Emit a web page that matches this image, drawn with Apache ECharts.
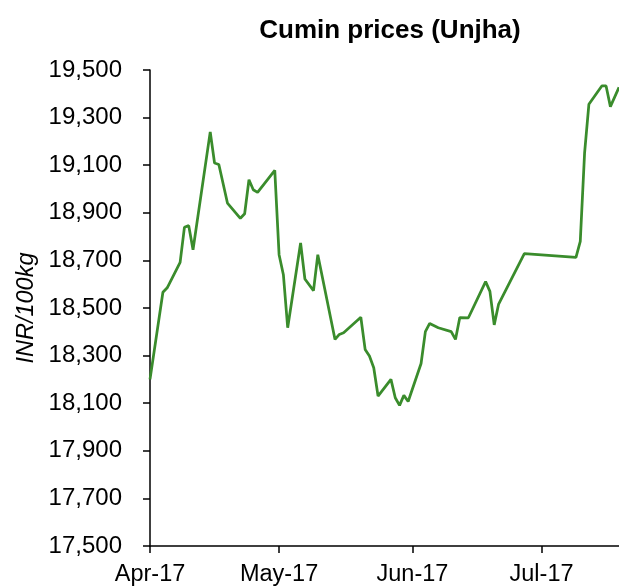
<!DOCTYPE html>
<html>
<head>
<meta charset="utf-8">
<title>Cumin prices (Unjha)</title>
<script src="https://cdn.jsdelivr.net/npm/echarts@6/dist/echarts.min.js"></script>
<style>
  html, body { margin: 0; padding: 0; background: #fff; }
  #box { width: 619px; height: 587px; }
</style>
</head>
<body>
<div id="box"></div>
<script>
// trading days and prices (INR/100kg)
var dates = [
  '2017-04-03', '2017-04-06', '2017-04-07', '2017-04-10', '2017-04-11', '2017-04-12', '2017-04-13',
  '2017-04-17', '2017-04-18', '2017-04-19', '2017-04-21', '2017-04-24', '2017-04-25', '2017-04-26',
  '2017-04-27', '2017-04-28', '2017-05-02', '2017-05-03', '2017-05-04', '2017-05-05', '2017-05-08',
  '2017-05-09', '2017-05-11', '2017-05-12', '2017-05-16', '2017-05-17', '2017-05-18', '2017-05-22',
  '2017-05-23', '2017-05-24', '2017-05-25', '2017-05-26', '2017-05-29', '2017-05-30', '2017-05-31',
  '2017-06-01', '2017-06-02', '2017-06-05', '2017-06-06', '2017-06-07', '2017-06-09', '2017-06-12',
  '2017-06-13', '2017-06-14', '2017-06-16', '2017-06-20', '2017-06-21', '2017-06-22', '2017-06-23',
  '2017-06-29', '2017-07-11', '2017-07-12', '2017-07-13', '2017-07-14', '2017-07-17', '2017-07-18',
  '2017-07-19', '2017-07-21'
];
var prices = [
  18200, 18566, 18585, 18692, 18839, 18846, 18745,
  19240, 19109, 19103, 18941, 18877, 18896, 19039,
  18997, 18986, 19078, 18724, 18640, 18417, 18773,
  18622, 18573, 18724, 18368, 18389, 18396, 18461,
  18326, 18298, 18249, 18130, 18200, 18123, 18091,
  18133, 18107, 18267, 18401, 18435, 18417, 18401,
  18368, 18460, 18459, 18611, 18570, 18429, 18515,
  18728, 18713, 18780, 19151, 19356, 19433, 19433,
  19346, 19427
];
// x-axis ticks (monthly from first date) and their labels
var tickDates = ['2017-04-03', '2017-05-03', '2017-06-03', '2017-07-03'];
var tickLabels = ['Apr-17', 'May-17', 'Jun-17', 'Jul-17'];

function toTime(s) {
  var p = s.split('-');
  return Date.UTC(+p[0], +p[1] - 1, +p[2]);
}

var tickTimes = tickDates.map(toTime);
var font = 'Liberation Sans, Arial, sans-serif';

var myChart = echarts.init(document.getElementById('box'));
var option = {
  animation: false,
  title: {
    text: 'Cumin prices (Unjha)',
    left: 385,
    textAlign: 'center',
    top: 13,
    textStyle: { fontFamily: font, fontSize: 26, fontWeight: 'bold', color: '#000' }
  },
  grid: { left: 150, right: 0, top: 70, bottom: 40, containLabel: false },
  xAxis: {
    type: 'value',
    min: toTime(dates[0]),
    max: toTime(dates[dates.length - 1]),
    axisLine: { show: true, lineStyle: { color: '#000', width: 1.5 } },
    axisTick: { show: true, length: 7, lineStyle: { color: '#000', width: 1.5 }, customValues: tickTimes },
    axisLabel: {
      customValues: tickTimes,
      margin: 17,
      color: '#000',
      fontFamily: font,
      fontSize: 23.5,
      formatter: function (val) {
        var i = tickTimes.indexOf(val);
        return i >= 0 ? tickLabels[i] : '';
      }
    },
    splitLine: { show: false }
  },
  yAxis: {
    type: 'value',
    min: 17500,
    max: 19500,
    interval: 200,
    name: 'INR/100kg',
    nameLocation: 'middle',
    nameGap: 112,
    nameTextStyle: { fontFamily: font, fontSize: 23.5, fontStyle: 'italic', color: '#000' },
    axisLine: { show: true, lineStyle: { color: '#000', width: 1.5 } },
    axisTick: { show: true, length: 7, lineStyle: { color: '#000', width: 1.5 } },
    axisLabel: {
      margin: 28,
      color: '#000',
      fontFamily: font,
      fontSize: 24,
      formatter: function (v) { return v.toLocaleString('en-US'); }
    },
    splitLine: { show: false }
  },
  series: [
    {
      name: 'Cumin (Unjha)',
      type: 'line',
      data: dates.map(function (d, i) { return [toTime(d), prices[i]]; }),
      showSymbol: false,
      symbol: 'none',
      lineStyle: { color: '#3a8c2c', width: 2.75 },
      clip: false
    }
  ]
};
myChart.setOption(option);
</script>
</body>
</html>
